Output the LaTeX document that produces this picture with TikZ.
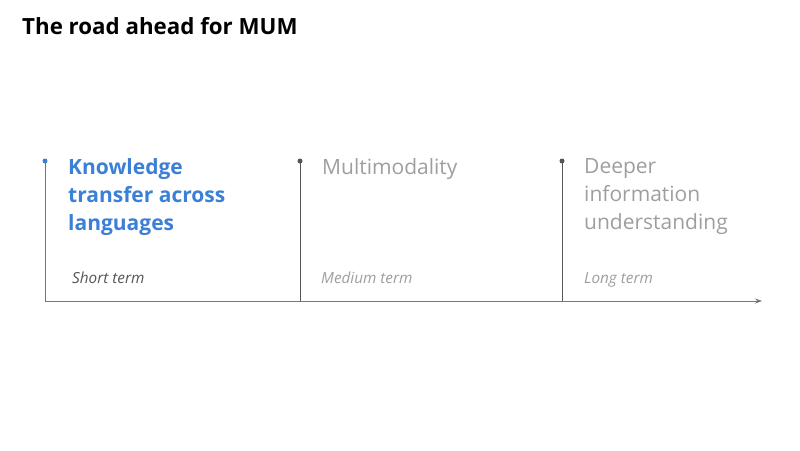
\documentclass[tikz,border=0pt]{standalone}
\usepackage{fontspec}
\setmainfont{Open Sans}
\usetikzlibrary{arrows.meta}
\definecolor{gblue}{HTML}{3C7FD6}
\definecolor{lgray}{HTML}{9E9E9E}
\definecolor{dgray}{HTML}{555555}
\tikzset{
  head/.style={anchor=north west,align=left,font=\fontsize{21}{28}\selectfont,inner sep=0pt},
  termlbl/.style={anchor=base west,font=\fontsize{15.3}{16}\selectfont\itshape,inner sep=0pt},
  tick/.style={line width=0.9pt},
  dot/.style={circle,fill,inner sep=0pt,minimum size=5pt}
}
\begin{document}
\begin{tikzpicture}[x=1pt,y=-1pt]
\useasboundingbox (0,0) rectangle (800,450);
\node[anchor=west,inner sep=0pt,font=\fontsize{22.3}{24}\selectfont\bfseries] (title) at (22,26) {The road ahead for MUM};
\coordinate (axs) at (45,301);
\coordinate (axe) at (762,301);
\draw[dgray!80,line width=0.8pt,-{Stealth[length=7pt,width=5pt]}] (axs) -- (axe);
\node[dot,gblue] (d1) at (45,161) {};
\node[dot,dgray] (d2) at (300,161) {};
\node[dot,dgray] (d3) at (562,161) {};
\coordinate (b1) at (45,301);
\coordinate (b2) at (300,301);
\coordinate (b3) at (562,301);
\draw[tick,gblue] (d1.center) -- (b1);
\draw[tick,dgray] (d2.center) -- (b2);
\draw[tick,dgray] (d3.center) -- (b3);
\node[head,gblue,font=\fontsize{21}{28}\selectfont\bfseries] (t1) at (68,158.5) {Knowledge\\transfer across\\languages};
\node[head,lgray] (t2) at (322,158.5) {Multimodality};
\node[head,lgray] (t3) at (584,158.5) {Deeper\\information\\understanding};
\node[termlbl,dgray] (s1) at (72,283) {Short term};
\node[termlbl,lgray] (s2) at (321,283) {Medium term};
\node[termlbl,lgray] (s3) at (584,283) {Long term};
\end{tikzpicture}
\end{document}
